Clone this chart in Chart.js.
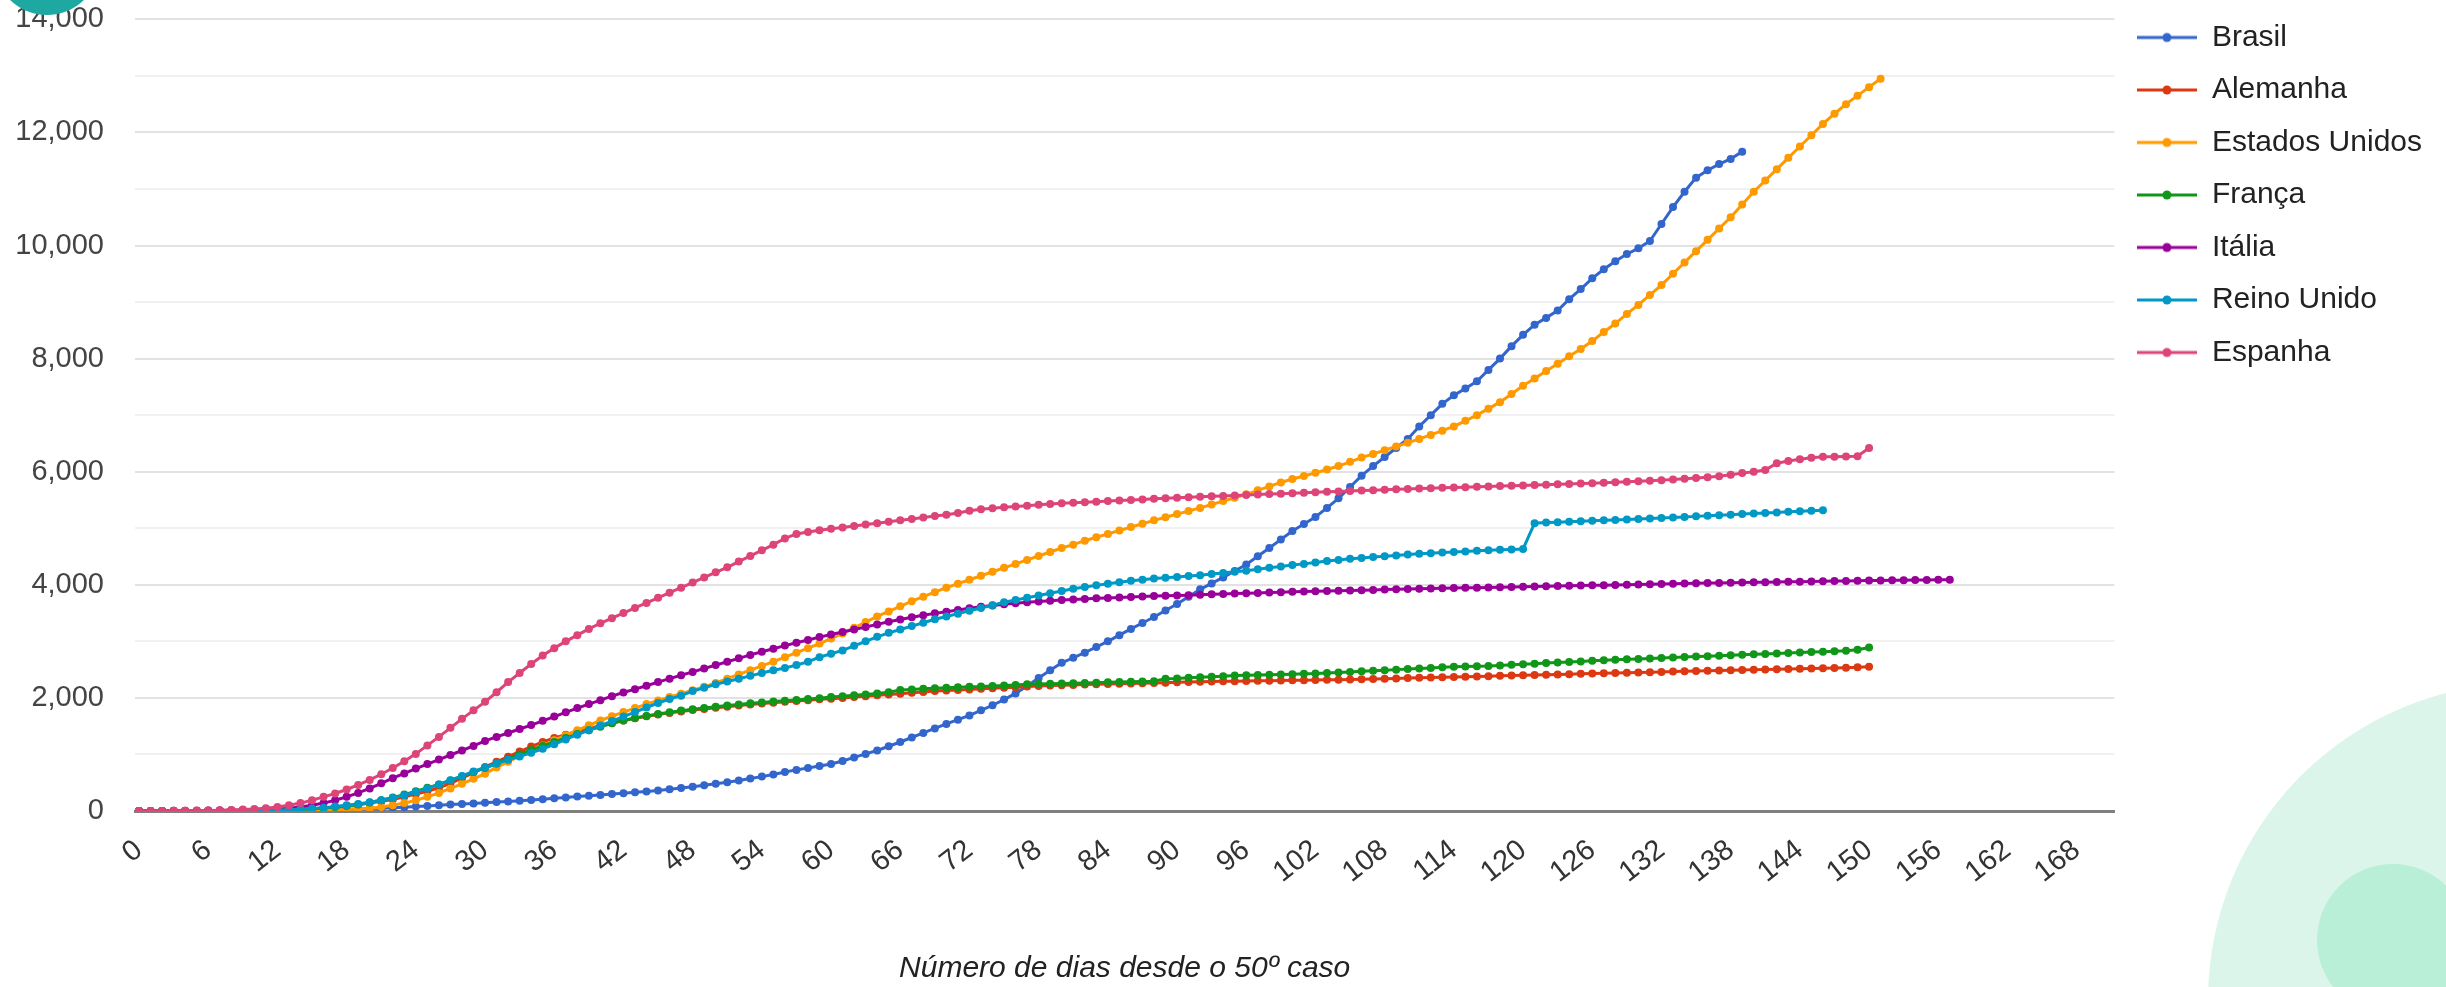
<!DOCTYPE html>
<html lang="pt-BR">
<head>
<meta charset="utf-8">
<title>Número de dias desde o 50º caso</title>
<script src="https://cdn.jsdelivr.net/npm/chart.js@4.4.1/dist/chart.umd.min.js"></script>
<style>
  html, body { margin: 0; padding: 0; background: #fff; overflow: hidden; }
  #wrap { position: relative; width: 2446px; height: 987px; overflow: hidden; }
  #wrap canvas { position: absolute; left: 0; top: 0; z-index: 1; }
  .blob { position: absolute; border-radius: 50%; }
  #blobTeal { left: -6px; top: -91px; width: 106px; height: 106px; background: #1ea8a2; z-index: 2; }
  #blobBig { left: 2208px; top: 683px; width: 634px; height: 634px; background: #dcf5ea; z-index: 0; }
  #blobSmall { left: 2317px; top: 864px; width: 152px; height: 152px; background: #b8efd6; z-index: 0; }
</style>
</head>
<body>
<div id="wrap">
  <div class="blob" id="blobBig"></div>
  <div class="blob" id="blobSmall"></div>
  <canvas id="deathsChart"></canvas>
  <div class="blob" id="blobTeal"></div>
</div>
<script>
// one value per day, counted from the 50th case
const brasil = [
  0, 0, 0, 1, 1, 2, 3, 4, 5, 6,
  7, 9, 11, 13, 15, 18, 22, 26, 31, 36,
  42, 50, 58, 68, 78, 90, 102, 114, 124, 134,
  145, 157, 168, 180, 193, 208, 224, 240, 256, 271,
  285, 300, 315, 330, 346, 364, 384, 406, 430, 455,
  480, 508, 540, 573, 608, 647, 690, 727, 762, 797,
  830, 885, 948, 1010, 1070, 1145, 1220, 1300, 1380, 1460,
  1540, 1615, 1690, 1780, 1870, 1970, 2080, 2210, 2350, 2490,
  2620, 2710, 2800, 2900, 3000, 3110, 3220, 3325, 3430, 3545,
  3660, 3790, 3920, 4025, 4130, 4245, 4360, 4505, 4650, 4800,
  4950, 5075, 5200, 5360, 5530, 5730, 5930, 6100, 6260, 6420,
  6580, 6800, 7000, 7200, 7350, 7470, 7600, 7800, 8000, 8220,
  8420, 8600, 8720, 8850, 9050, 9230, 9420, 9580, 9720, 9850,
  9950, 10080, 10380, 10680, 10950, 11200, 11330, 11440, 11530, 11660
];
const alemanha = [
  0, 0, 0, 1, 1, 2, 2, 3, 5, 7,
  9, 12, 16, 22, 30, 40, 55, 72, 92, 112,
  140, 170, 205, 250, 300, 350, 410, 490, 580, 680,
  780, 870, 960, 1050, 1140, 1220, 1290, 1350, 1410, 1460,
  1510, 1555, 1600, 1640, 1675, 1705, 1735, 1760, 1785, 1805,
  1825, 1845, 1865, 1885, 1900, 1915, 1930, 1945, 1960, 1975,
  1985, 2000, 2015, 2030, 2045, 2060, 2075, 2090, 2105, 2120,
  2130, 2140, 2150, 2160, 2170, 2180, 2190, 2200, 2210, 2220,
  2225, 2230, 2235, 2240, 2245, 2250, 2255, 2260, 2265, 2270,
  2275, 2280, 2285, 2290, 2293, 2296, 2299, 2302, 2305, 2308,
  2311, 2314, 2317, 2320, 2323, 2327, 2331, 2335, 2340, 2345,
  2350, 2355, 2360, 2365, 2370, 2375, 2380, 2385, 2390, 2395,
  2400, 2405, 2410, 2415, 2420, 2425, 2430, 2435, 2440, 2445,
  2450, 2455, 2460, 2465, 2470, 2475, 2480, 2485, 2490, 2495,
  2500, 2503, 2507, 2511, 2515, 2520, 2525, 2530, 2535, 2540,
  2550
];
const estadosUnidos = [
  0, 0, 0, 0, 1, 1, 1, 2, 2, 3,
  3, 4, 5, 6, 8, 10, 14, 19, 26, 35,
  50, 70, 100, 140, 190, 250, 320, 400, 480, 570,
  660, 770, 870, 975, 1070, 1160, 1250, 1340, 1430, 1515,
  1600, 1675, 1750, 1820, 1890, 1955, 2015, 2075, 2135, 2195,
  2265, 2340, 2415, 2490, 2565, 2640, 2720, 2800, 2880, 2960,
  3050, 3140, 3240, 3340, 3440, 3530, 3620, 3710, 3790, 3870,
  3950, 4020, 4090, 4160, 4230, 4300, 4370, 4440, 4510, 4580,
  4650, 4710, 4780, 4840, 4900, 4960, 5020, 5080, 5140, 5195,
  5250, 5305, 5360, 5420, 5480, 5540, 5600, 5670, 5740, 5810,
  5870, 5925, 5980, 6040, 6100, 6175, 6250, 6315, 6380, 6445,
  6510, 6580, 6650, 6725, 6800, 6900, 7000, 7115, 7230, 7375,
  7520, 7650, 7780, 7910, 8040, 8170, 8310, 8470, 8620, 8790,
  8950, 9125, 9300, 9500, 9700, 9900, 10100, 10300, 10500, 10725,
  10950, 11150, 11350, 11550, 11750, 11950, 12150, 12330, 12500, 12650,
  12800, 12950
];
const franca = [
  0, 0, 0, 1, 1, 2, 2, 3, 4, 6,
  8, 11, 15, 20, 28, 38, 52, 70, 90, 115,
  150, 190, 240, 290, 350, 410, 470, 540, 610, 690,
  760, 840, 920, 1000, 1080, 1150, 1220, 1290, 1360, 1430,
  1490, 1550, 1600, 1645, 1680, 1715, 1745, 1775, 1800, 1820,
  1845, 1865, 1885, 1905, 1920, 1935, 1950, 1965, 1980, 1995,
  2015, 2030, 2045, 2060, 2080, 2100, 2140, 2150, 2160, 2170,
  2180, 2190, 2195, 2200, 2210, 2220, 2230, 2240, 2245, 2250,
  2255, 2260, 2265, 2270, 2275, 2280, 2285, 2290, 2295, 2340,
  2345, 2355, 2365, 2375, 2385, 2395, 2400, 2405, 2410, 2415,
  2420, 2425, 2430, 2440, 2450, 2460, 2470, 2480, 2490, 2500,
  2510, 2520, 2530, 2540, 2550, 2555, 2560, 2565, 2575, 2585,
  2595, 2605, 2615, 2625, 2635, 2645, 2655, 2665, 2675, 2685,
  2690, 2698, 2706, 2714, 2722, 2730, 2738, 2746, 2754, 2762,
  2770, 2778, 2786, 2794, 2802, 2810, 2818, 2826, 2834, 2850,
  2890
];
const italia = [
  0, 1, 2, 3, 4, 5, 7, 9, 12, 15,
  19, 25, 35, 50, 72, 100, 140, 190, 250, 320,
  400, 490, 580, 665, 750, 830, 910, 990, 1070, 1150,
  1240, 1310, 1380, 1450, 1520, 1595, 1670, 1745, 1820, 1890,
  1960, 2030, 2095, 2155, 2215, 2280, 2340, 2400, 2460, 2520,
  2580, 2640, 2700, 2760, 2815, 2870, 2925, 2975, 3025, 3075,
  3120, 3165, 3210, 3255, 3300, 3345, 3385, 3425, 3460, 3495,
  3525, 3555, 3585, 3610, 3635, 3655, 3675, 3690, 3705, 3720,
  3730, 3740, 3750, 3760, 3768, 3776, 3784, 3792, 3800, 3806,
  3810, 3817, 3824, 3831, 3838, 3845, 3851, 3857, 3863, 3869,
  3875, 3880, 3885, 3890, 3895, 3900, 3905, 3910, 3915, 3920,
  3925, 3930, 3934, 3938, 3942, 3946, 3950, 3954, 3958, 3962,
  3966, 3970, 3974, 3978, 3982, 3986, 3990, 3994, 3998, 4002,
  4006, 4010, 4014, 4018, 4022, 4026, 4030, 4034, 4038, 4041,
  4044, 4047, 4050, 4053, 4056, 4059, 4062, 4065, 4068, 4071,
  4074, 4077, 4080, 4082, 4084, 4086, 4088, 4090
];
const reinoUnido = [
  0, 0, 0, 1, 1, 2, 3, 4, 5, 7,
  9, 12, 16, 22, 30, 42, 58, 78, 100, 125,
  155, 190, 230, 280, 335, 400, 470, 545, 620, 700,
  770, 840, 905, 965, 1030, 1100, 1180, 1265, 1350, 1430,
  1510, 1590, 1670, 1750, 1830, 1910, 1980, 2040, 2120, 2180,
  2240, 2290, 2340, 2390, 2440, 2490, 2530, 2580, 2640, 2720,
  2780, 2840, 2920, 3000, 3080, 3150, 3210, 3270, 3330, 3390,
  3440, 3490, 3540, 3590, 3640, 3690, 3730, 3770, 3810, 3850,
  3890, 3930, 3960, 3990, 4020, 4045, 4070, 4090, 4110, 4125,
  4140, 4155, 4170, 4190, 4210, 4230, 4250, 4275, 4300, 4325,
  4350, 4370, 4395, 4420, 4440, 4460, 4475, 4490, 4505, 4520,
  4535, 4550, 4560, 4570, 4580, 4590, 4600, 4610, 4618, 4626,
  4634, 5090, 5100, 5108, 5116, 5124, 5132, 5140, 5148, 5156,
  5164, 5172, 5180, 5190, 5200, 5210, 5220, 5230, 5240, 5250,
  5260, 5270, 5280, 5290, 5300, 5310, 5320
];
const espanha = [
  0, 1, 2, 3, 5, 7, 10, 14, 19, 26,
  35, 50, 70, 100, 140, 190, 250, 310, 380, 460,
  550, 650, 760, 880, 1010, 1160, 1310, 1470, 1630, 1780,
  1930, 2100, 2280, 2440, 2600, 2750, 2880, 3000, 3110, 3220,
  3320, 3410, 3500, 3590, 3680, 3770, 3860, 3950, 4040, 4130,
  4220, 4310, 4410, 4510, 4610, 4710, 4820, 4900, 4935, 4965,
  4990, 5015, 5040, 5065, 5090, 5115, 5140, 5165, 5190, 5215,
  5240, 5270, 5310, 5335, 5355, 5370, 5385, 5400, 5415, 5430,
  5440, 5450, 5460, 5470, 5480, 5490, 5500, 5510, 5520, 5530,
  5540, 5548, 5556, 5564, 5572, 5580, 5588, 5596, 5604, 5612,
  5620, 5628, 5636, 5644, 5652, 5660, 5667, 5674, 5681, 5688,
  5695, 5702, 5709, 5715, 5721, 5727, 5733, 5739, 5745, 5751,
  5757, 5763, 5769, 5776, 5783, 5790, 5797, 5805, 5813, 5822,
  5831, 5841, 5851, 5862, 5874, 5887, 5901, 5920, 5945, 5975,
  6000, 6030, 6150, 6190, 6220, 6245, 6265, 6265, 6270, 6275,
  6420
];

const seriesNames = ['Brasil', 'Alemanha', 'Estados Unidos', 'França', 'Itália', 'Reino Unido', 'Espanha'];
const seriesValues = [brasil, alemanha, estadosUnidos, franca, italia, reinoUnido, espanha];
const seriesColors = ['#3366cc', '#dc3912', '#ff9900', '#109618', '#990099', '#0099c6', '#dd4477'];

const xTicks = [0, 6, 12, 18, 24, 30, 36, 42, 48, 54, 60, 66, 72, 78, 84, 90, 96, 102, 108, 114, 120, 126, 132, 138, 144, 150, 156, 162, 168];
const yGrid = [0, 1000, 2000, 3000, 4000, 5000, 6000, 7000, 8000, 9000, 10000, 11000, 12000, 13000, 14000];
const yLabels = [0, 2000, 4000, 6000, 8000, 10000, 12000, 14000];
const xTitle = 'Número de dias desde o 50º caso';

const FONT = "'Liberation Sans', Arial, sans-serif";
Chart.defaults.font.family = FONT;

// google-style legend marker: short line with a dot in the middle
function legendIcon(color) {
  const c = document.createElement('canvas');
  c.width = 60; c.height = 12;
  const g = c.getContext('2d');
  g.strokeStyle = color; g.lineWidth = 3;
  g.beginPath(); g.moveTo(0, 6); g.lineTo(60, 6); g.stroke();
  g.fillStyle = color;
  g.beginPath(); g.arc(30, 6, 4.5, 0, Math.PI * 2); g.fill();
  return c;
}
const legendIcons = seriesColors.map(legendIcon);

const datasets = seriesNames.map((name, i) => ({
  label: name,
  data: seriesValues[i].map((v, day) => ({ x: day, y: v })),
  borderColor: seriesColors[i],
  backgroundColor: seriesColors[i],
  borderWidth: 3,
  pointRadius: 4,
  pointBorderWidth: 0,
  pointHoverRadius: 5,
  tension: 0,
  order: seriesNames.length - i   // later series painted on top
}));

new Chart(document.getElementById('deathsChart'), {
  type: 'line',
  data: { datasets },
  options: {
    responsive: true,
    maintainAspectRatio: false,
    animation: false,
    layout: { padding: { left: 12, right: 14, top: 0, bottom: 0 } },
    plugins: {
      tooltip: { mode: 'nearest', intersect: false },
      legend: {
        position: 'right',
        align: 'start',
        labels: {
          usePointStyle: true,
          pointStyleWidth: 60,
          padding: 22.5,
          color: '#222',
          font: { size: 30, family: FONT },
          generateLabels: (chart) => chart.data.datasets.map((ds, i) => ({
            text: ds.label,
            fillStyle: ds.borderColor,
            strokeStyle: ds.borderColor,
            lineWidth: 0,
            pointStyle: legendIcons[i],
            hidden: !chart.isDatasetVisible(i),
            datasetIndex: i,
            fontColor: '#222'
          }))
        }
      }
    },
    scales: {
      x: {
        type: 'linear',
        min: -0.35,
        max: 171.27,
        afterBuildTicks: (s) => { s.ticks = xTicks.map(v => ({ value: v })); },
        afterFit: (s) => { s.height = 176; },
        grid: { display: false, drawTicks: false },
        border: { display: true, color: '#7f7f7f', width: 3 },
        ticks: {
          autoSkip: false,
          minRotation: 38,
          maxRotation: 38,
          padding: 22,
          color: '#333',
          font: { size: 29, family: FONT }
        },
        title: {
          display: true,
          text: xTitle,
          color: '#222',
          padding: 0,
          font: { size: 30, style: 'italic', family: FONT }
        }
      },
      y: {
        min: 0,
        max: 14000,
        afterBuildTicks: (s) => { s.ticks = yGrid.map(v => ({ value: v })); },
        afterFit: (s) => { s.width = 123; s.paddingTop = 19.3; },
        grid: {
          drawTicks: false,
          color: (c) => c.tick.value === 0 ? '#7f7f7f' : (yLabels.includes(c.tick.value) ? '#e2e2e2' : '#f1f1f1'),
          lineWidth: (c) => c.tick.value === 0 ? 3 : 2
        },
        border: { display: false },
        ticks: {
          padding: 31,
          color: '#444',
          font: { size: 29, family: FONT },
          callback: (v) => yLabels.includes(v) ? v.toLocaleString('en-US') : ''
        }
      }
    }
  }
});
</script>
</body>
</html>
